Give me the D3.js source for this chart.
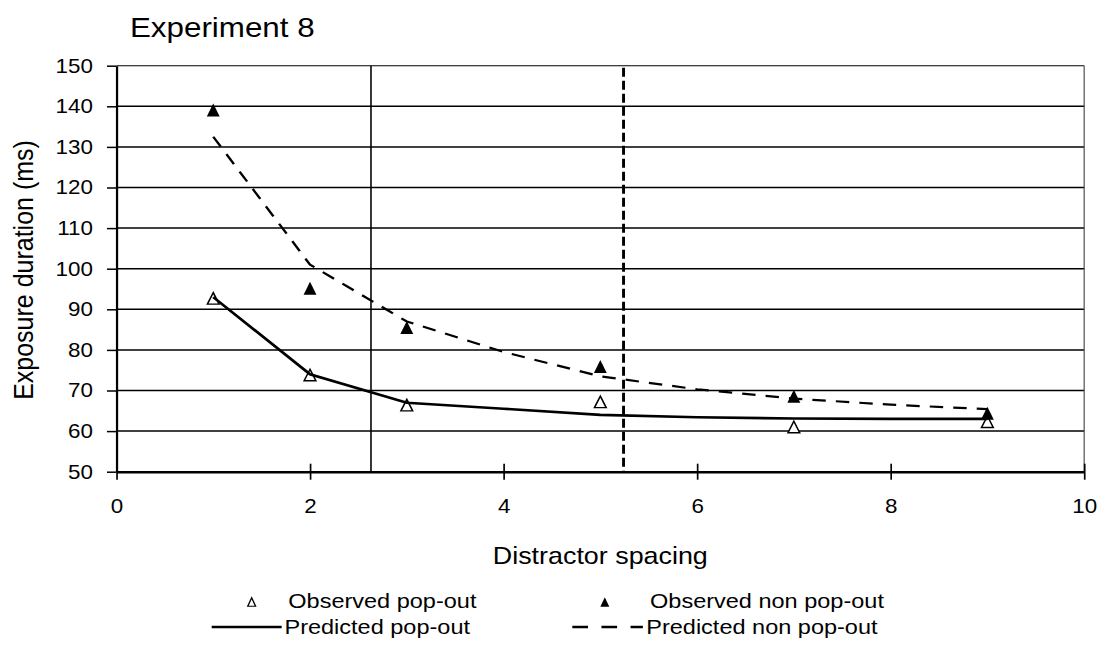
<!DOCTYPE html>
<html>
<head>
<meta charset="utf-8">
<script src="https://cdn.jsdelivr.net/npm/d3@7"></script>
<style>
  body { margin: 0; background: #fff; }
  text { font-family: "Liberation Sans", Arial, Helvetica, sans-serif; fill: #000; }
</style>
</head>
<body>
<svg id="chart"></svg>
<script>
// Experiment 8 — exposure duration vs distractor spacing

// --- data ---
const obsX = [1, 2, 3, 5, 7, 9];
const obsPopOut = [92.7, 73.8, 66.4, 67.2, 61.0, 62.3];
const obsNonPopOut = [139.1, 95.2, 85.5, 75.9, 68.6, 64.4];
const predX = [1, 2, 3, 4, 5, 6, 7, 8, 9];
const predPopOut = [93, 74, 67, 65.5, 64, 63.4, 63.1, 63, 63];
const predNonPopOut = [132.5, 101, 87, 79.5, 73.5, 70.3, 68, 66.5, 65.4];
const refLines = [2.63, 5.24];       // solid, dashed vertical markers
const xTicks = [0, 2, 4, 6, 8, 10];
const yTicks = [50, 60, 70, 80, 90, 100, 110, 120, 130, 140, 150];

// the picture is a bit wider than tall, so draw in a narrower box and stretch it
const W = 1104, H = 654, K = 1.12;
const VW = W / K;
const svg = d3.select("#chart")
  .attr("width", W).attr("height", H)
  .attr("viewBox", `0 0 ${VW} ${H}`)
  .attr("preserveAspectRatio", "none");

const L = 104, R = 968, T = 65.7, B = 471.7;
const x = d3.scaleLinear().domain([0, 10]).range([L, R]);
const y = d3.scaleLinear().domain([50, 150]).range([B, T]);

// triangle marker, centred on its box (Excel style)
const triPath = (w, h) => `M0,${-h / 2}L${w / 2},${h / 2}L${-w / 2},${h / 2}Z`;

// --- gridlines ---
svg.append("g").selectAll("line")
  .data(yTicks.filter(d => d > 50))
  .join("line")
  .attr("x1", L).attr("x2", R)
  .attr("y1", d => y(d)).attr("y2", d => y(d))
  .attr("stroke", "#000").attr("stroke-width", d => d === 150 ? 1 : 1.5);

// right border
svg.append("line")
  .attr("x1", R).attr("x2", R).attr("y1", T).attr("y2", B)
  .attr("stroke", "#444").attr("stroke-width", 1);

// vertical reference lines
svg.append("line")
  .attr("x1", x(refLines[0])).attr("x2", x(refLines[0]))
  .attr("y1", T).attr("y2", B)
  .attr("stroke", "#000").attr("stroke-width", 1.4);
svg.append("line")
  .attr("x1", x(refLines[1])).attr("x2", x(refLines[1]))
  .attr("y1", T + 2).attr("y2", B)
  .attr("stroke", "#000").attr("stroke-width", 2.6)
  .attr("stroke-dasharray", "9,4");

// --- axes ---
const yAxis = svg.append("g")
  .attr("transform", `translate(${L},0)`)
  .call(d3.axisLeft(y).tickValues(yTicks).tickSizeInner(8.5).tickSizeOuter(0).tickPadding(12.5));
yAxis.select(".domain").attr("stroke-width", 2);
yAxis.selectAll(".tick line").attr("stroke-width", 1.5);
yAxis.selectAll("text").attr("font-size", 20).attr("font-family", null);

const xAxis = svg.append("g")
  .attr("transform", `translate(0,${B})`)
  .call(d3.axisBottom(x).tickValues(xTicks).tickSizeInner(8).tickSizeOuter(0).tickPadding(19));
xAxis.select(".domain").attr("stroke-width", 2.5);
xAxis.selectAll(".tick line").attr("y1", -8).attr("y2", 8).attr("stroke-width", 1.5);
xAxis.selectAll("text").attr("font-size", 20).attr("font-family", null);

// --- markers ---
svg.append("g").selectAll("path")
  .data(obsX.map((d, i) => [d, obsPopOut[i]]))
  .join("path")
  .attr("d", triPath(10.5, 11.5))
  .attr("transform", d => `translate(${x(d[0])},${y(d[1])})`)
  .attr("fill", "#fff").attr("stroke", "#000").attr("stroke-width", 1.4);

svg.append("g").selectAll("path")
  .data(obsX.map((d, i) => [d, obsNonPopOut[i]]))
  .join("path")
  .attr("d", triPath(11.5, 13))
  .attr("transform", d => `translate(${x(d[0])},${y(d[1])})`)
  .attr("fill", "#000");

// --- predicted lines ---
const line = d3.line().x(d => x(d[0])).y(d => y(d[1]));
svg.append("path")
  .datum(predX.map((d, i) => [d, predPopOut[i]]))
  .attr("d", line)
  .attr("fill", "none").attr("stroke", "#000").attr("stroke-width", 2.6);
svg.append("path")
  .datum(predX.map((d, i) => [d, predNonPopOut[i]]))
  .attr("d", line)
  .attr("fill", "none").attr("stroke", "#000").attr("stroke-width", 2.2)
  .attr("stroke-dasharray", "12,9");

// --- titles ---
svg.append("text")
  .attr("x", 116).attr("y", 37)
  .attr("font-size", 28)
  .text("Experiment 8");

svg.append("text")
  .attr("transform", `translate(29.8,270) rotate(-90)`)
  .attr("text-anchor", "middle")
  .attr("font-size", 25)
  .text("Exposure duration (ms)");

svg.append("text")
  .attr("x", (L + R) / 2).attr("y", 564)
  .attr("text-anchor", "middle")
  .attr("font-size", 24)
  .text("Distractor spacing");

// --- legend ---
const lg = svg.append("g");
const row1 = 608, row2 = 634;
lg.append("path").attr("d", triPath(7, 8.5))
  .attr("transform", `translate(224.7,${row1 - 6})`)
  .attr("fill", "#fff").attr("stroke", "#000").attr("stroke-width", 1.2);
lg.append("text").attr("x", 257.4).attr("y", row1).attr("font-size", 21).text("Observed pop-out");
lg.append("line").attr("x1", 189).attr("x2", 251.5).attr("y1", row2 - 7).attr("y2", row2 - 7)
  .attr("stroke", "#000").attr("stroke-width", 2.6);
lg.append("text").attr("x", 254).attr("y", row2).attr("font-size", 21).text("Predicted pop-out");

lg.append("path").attr("d", triPath(8, 9.5))
  .attr("transform", `translate(540,${row1 - 6})`)
  .attr("fill", "#000");
lg.append("text").attr("x", 580.4).attr("y", row1).attr("font-size", 21).text("Observed non pop-out");
lg.append("line").attr("x1", 511).attr("x2", 574).attr("y1", row2 - 7).attr("y2", row2 - 7)
  .attr("stroke", "#000").attr("stroke-width", 2.6)
  .attr("stroke-dasharray", "14,12");
lg.append("text").attr("x", 577).attr("y", row2).attr("font-size", 21).text("Predicted non pop-out");
</script>
</body>
</html>
